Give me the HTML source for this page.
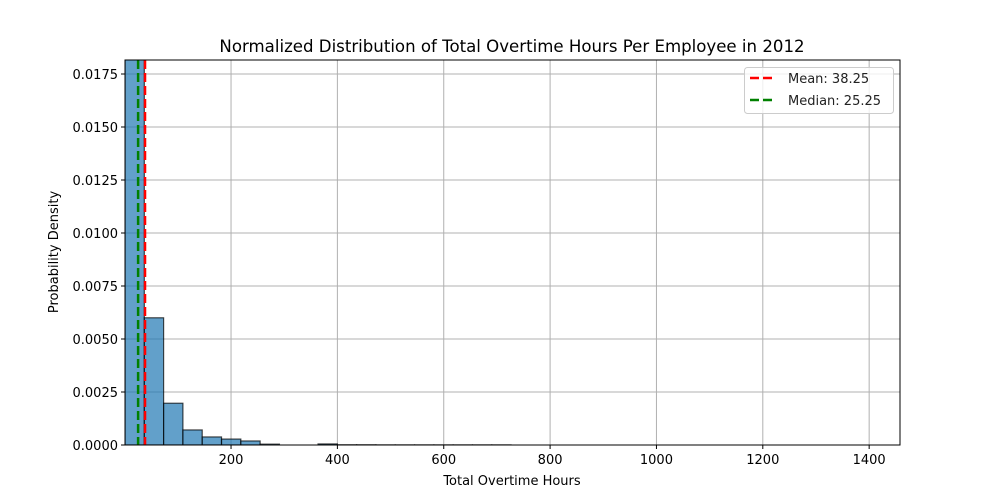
<!DOCTYPE html>
<html><head><meta charset="utf-8"><style>
html,body{margin:0;padding:0;background:#fff;}
svg{display:block;font-family:"DejaVu Sans","Liberation Sans",sans-serif;}
</style></head><body>
<svg id="chart" width="1000" height="500" viewBox="0 0 1000 500">
<text x="512" y="52" font-size="16.6" text-anchor="middle">Normalized Distribution of Total Overtime Hours Per Employee in 2012</text>
<g id="grid"></g>
<g id="bars"></g>
<g id="lines"></g>
<g id="axes"></g>
<text x="512" y="485" font-size="13" text-anchor="middle">Total Overtime Hours</text>
<text transform="translate(58,252) rotate(-90)" font-size="13" text-anchor="middle">Probability Density</text>
<g>
<rect x="744.5" y="67.5" width="149" height="46" rx="3" fill="#fff" fill-opacity="0.8" stroke="#ccc"/>
<line x1="750" y1="78" x2="776" y2="78" stroke="red" stroke-width="2.5" stroke-dasharray="9,4"/>
<text x="788" y="83" font-size="13" fill="#222">Mean: 38.25</text>
<line x1="750" y1="100" x2="776" y2="100" stroke="green" stroke-width="2.5" stroke-dasharray="9,4"/>
<text x="788" y="105" font-size="13" fill="#222">Median: 25.25</text>
</g>
</svg>
<script>
const binStart = 0.6;
const binWidth = 36.3;
const densities = [0.0183,0.0060,0.00197,0.00071,0.00038,0.00028,0.00019,0.00004,0,0,0.00005,0.00001,0.00001,0.000005,0.000005,0.000005,0.000005,0.000005,0.000005,0.000005];
const xTicks = [200,400,600,800,1000,1200,1400];
const yTicks = [0,0.0025,0.005,0.0075,0.01,0.0125,0.015,0.0175];
const yTickLabels = ["0.0000","0.0025","0.0050","0.0075","0.0100","0.0125","0.0150","0.0175"];
const meanVal = 38.25;
const medianVal = 25.25;

const L=125,R=900,T=60,B=445;
const xMin=0.6,xMax=1458,yMax=0.01816;
const xs=v=>L+(v-xMin)/(xMax-xMin)*(R-L);
const ys=v=>B-v/yMax*(B-T);
const NS='http://www.w3.org/2000/svg';
function mk(tag,attrs,parent){const e=document.createElementNS(NS,tag);for(const k in attrs)e.setAttribute(k,attrs[k]);parent.appendChild(e);return e;}
const grid=document.getElementById('grid'),bars=document.getElementById('bars'),lines=document.getElementById('lines'),axes=document.getElementById('axes');
xTicks.forEach(t=>{const x=xs(t);
 const g=mk('line',{x1:x,x2:x,y1:T,y2:B,stroke:'#b0b0b0','stroke-width':1},grid);
 
 
 const tk=mk('line',{x1:x,x2:x,y1:B,y2:B+4,stroke:'#000'},axes);
 
 
 const tl=mk('text',{x:x,y:B+19,'font-size':13,'text-anchor':'middle'},axes);tl.textContent=t;
 
 
});
yTicks.forEach((t,i)=>{const y=ys(t);
 const g=mk('line',{x1:L,x2:R,y1:y,y2:y,stroke:'#b0b0b0','stroke-width':1},grid);
 
 
 const tk=mk('line',{x1:L-4,x2:L,y1:y,y2:y,stroke:'#000'},axes);
 
 
 const tl=mk('text',{x:L-7,y:y+5,'font-size':13,'text-anchor':'end'},axes);tl.textContent=yTickLabels[i];
 
 
});
const clip=mk('clipPath',{id:'pc'},document.getElementById('chart'));
mk('rect',{x:L,y:T,width:R-L,height:B-T},clip);
bars.setAttribute('clip-path','url(#pc)');
densities.forEach((d,i)=>{if(d<=0)return;
 const x0=xs(binStart+i*binWidth),x1=xs(binStart+(i+1)*binWidth);
 const y=ys(d);
 const r=mk('rect',{x:x0,y:y,width:x1-x0,height:B-y,fill:'#1f77b4','fill-opacity':0.7,stroke:'#000','stroke-opacity':0.7,'stroke-width':1.2},bars);
 
 
});
const ml=mk('line',{x1:xs(meanVal),x2:xs(meanVal),y1:T,y2:B,stroke:'red','stroke-width':2.5,'stroke-dasharray':'9,4'},lines);


const dl=mk('line',{x1:xs(medianVal),x2:xs(medianVal),y1:T,y2:B,stroke:'green','stroke-width':2.5,'stroke-dasharray':'9,4'},lines);


const fr=mk('rect',{x:L,y:T,width:R-L,height:B-T,fill:'none',stroke:'#000','stroke-width':1},axes);


</script>
</body></html>
